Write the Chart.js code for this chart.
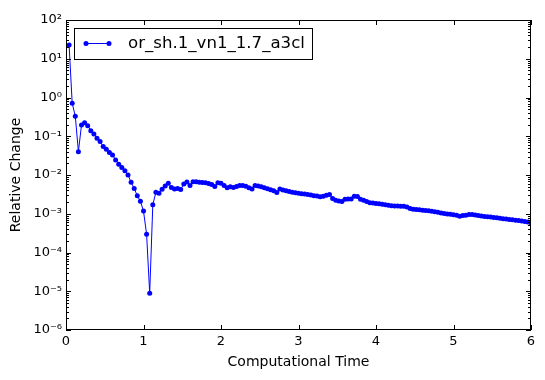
<!DOCTYPE html>
<html><head><meta charset="utf-8">
<script src="https://cdn.jsdelivr.net/npm/chart.js@4"></script>
<style>html,body{margin:0;padding:0;background:#fff}#wrap{width:545px;height:380px}</style>
</head><body><div id="wrap"><canvas id="c" width="545" height="380"></canvas></div>
<script>
const seriesLabel = 'or_sh.1_vn1_1.7_a3cl';
const timeStep = 0.04;
const relChange = [
 22.6, 0.71, 0.33, 0.04, 0.195, 0.224, 0.187, 0.139, 0.115, 0.089,
 0.073, 0.054, 0.046, 0.038, 0.033, 0.0245, 0.019, 0.0156, 0.0129, 0.010,
 0.0065, 0.0045, 0.0029, 0.0021, 0.00117, 0.000295, 0.0000089, 0.0017, 0.00358, 0.00337,
 0.00428, 0.0052, 0.00611, 0.00476, 0.00435, 0.00448, 0.00422, 0.00586, 0.0066, 0.00536,
 0.00668, 0.00672, 0.00652, 0.00637, 0.00629, 0.0060, 0.00569, 0.00505, 0.00633, 0.00614,
 0.00536, 0.00467, 0.00496, 0.00479, 0.00505, 0.00539, 0.00533, 0.00514, 0.00467, 0.00435,
 0.00536, 0.00523, 0.00499, 0.00467, 0.00443, 0.00415, 0.00391, 0.00354, 0.00435, 0.0041,
 0.00393, 0.00375, 0.00358, 0.00349, 0.00339, 0.00329, 0.00324, 0.00312, 0.00303, 0.00292,
 0.00286, 0.00274, 0.00282, 0.00301, 0.00314, 0.00246, 0.00222, 0.00213, 0.00207, 0.00236,
 0.00239, 0.0024, 0.00284, 0.00279, 0.00237, 0.00224, 0.00207, 0.00193, 0.00189, 0.00185,
 0.00182, 0.00175, 0.0017, 0.00166, 0.00162, 0.00159, 0.00158, 0.00157, 0.00156, 0.00149,
 0.00137, 0.00131, 0.00129, 0.00126, 0.00124, 0.00121, 0.00119, 0.00116, 0.00113, 0.00109,
 0.00105, 0.00102, 0.000985, 0.00097, 0.00094, 0.00091, 0.000865, 0.0009, 0.00092, 0.000955,
 0.00095, 0.00093, 0.0009, 0.000875, 0.000855, 0.000834, 0.00082, 0.000805, 0.00079, 0.000768,
 0.000745, 0.000727, 0.000715, 0.000698, 0.00068, 0.00067, 0.000654, 0.000635, 0.000612, 0.00059
];
const xTicks = [0, 1, 2, 3, 4, 5, 6];
const yTicks = [1e-6, 1e-5, 1e-4, 1e-3, 1e-2, 1e-1, 1e0, 1e1, 1e2];
const yTickLabels = ['10\u207B\u2076', '10\u207B\u2075', '10\u207B\u2074', '10\u207B\u00B3', '10\u207B\u00B2', '10\u207B\u00B9', '10\u2070', '10\u00B9', '10\u00B2'];

const points = relChange.map((v, i) => ({ x: (i + 1) * timeStep, y: v }));
const BLUE = '#0000ff';

const framePlugin = {
  id: 'frame',
  afterDatasetsDraw(chart) {
    const { ctx, chartArea: a, scales: { x, y } } = chart;
    ctx.save();
    ctx.strokeStyle = '#000';
    ctx.lineWidth = 1;
    ctx.beginPath();
    xTicks.forEach(v => {
      const px = Math.round(x.getPixelForValue(v)) + 0.5;
      ctx.moveTo(px, a.bottom); ctx.lineTo(px, a.bottom - 5);
      ctx.moveTo(px, a.top); ctx.lineTo(px, a.top + 5);
    });
    yTicks.forEach((v, k) => {
      const py = Math.round(y.getPixelForValue(v)) + 0.5;
      ctx.moveTo(a.left, py); ctx.lineTo(a.left + 5, py);
      ctx.moveTo(a.right, py); ctx.lineTo(a.right - 5, py);
      if (k < yTicks.length - 1) {
        for (let m = 2; m <= 9; m++) {
          const pm = Math.round(y.getPixelForValue(v * m)) + 0.5;
          ctx.moveTo(a.left, pm); ctx.lineTo(a.left + 3, pm);
          ctx.moveTo(a.right, pm); ctx.lineTo(a.right - 3, pm);
        }
      }
    });
    ctx.stroke();
    ctx.strokeRect(Math.round(a.left) + 0.5, Math.round(a.top) + 0.5, Math.round(a.right - a.left) - 1, Math.round(a.bottom - a.top) - 1);
    // legend
    ctx.fillStyle = '#fff';
    ctx.fillRect(74, 28, 238, 31);
    ctx.strokeRect(74.5, 28.5, 238, 31);
    ctx.strokeStyle = BLUE;
    ctx.beginPath();
    ctx.moveTo(86, 43.5); ctx.lineTo(109, 43.5);
    ctx.stroke();
    ctx.fillStyle = BLUE;
    [86, 109].forEach(cx => { ctx.beginPath(); ctx.arc(cx, 43.5, 2.5, 0, Math.PI * 2); ctx.fill(); });
    ctx.fillStyle = '#000';
    ctx.font = '16.6px "DejaVu Sans"';
    ctx.textBaseline = 'middle';
    ctx.textAlign = 'left';
    ctx.fillText(seriesLabel, 128, 44);
    ctx.restore();
  }
};

Chart.defaults.font.family = '"DejaVu Sans", sans-serif';
Chart.defaults.color = '#000';

new Chart(document.getElementById('c'), {
  type: 'line',
  data: {
    datasets: [{
      label: seriesLabel,
      data: points,
      borderColor: BLUE,
      backgroundColor: BLUE,
      borderWidth: 1,
      pointRadius: 2.5,
      pointBorderWidth: 0,
      pointBackgroundColor: BLUE,
      tension: 0,
      fill: false
    }]
  },
  options: {
    responsive: false,
    animation: false,
    devicePixelRatio: 1,
    layout: { padding: { top: 20, right: 14, left: 0, bottom: 0 } },
    plugins: { legend: { display: false }, tooltip: { enabled: false } },
    scales: {
      x: {
        type: 'linear', min: 0, max: 6,
        grid: { display: false, drawTicks: false, tickLength: 0 },
        border: { display: false },
        afterBuildTicks: s => { s.ticks = xTicks.map(v => ({ value: v })); },
        afterFit: s => { s.height = 50; },
        ticks: { color: '#000', font: { size: 13 }, padding: 4, maxRotation: 0, autoSkip: false, callback: v => String(v) },
        title: { display: true, text: 'Computational Time', color: '#000', font: { size: 14 }, padding: { top: 0, bottom: 9.6 } }
      },
      y: {
        type: 'logarithmic', min: 1e-6, max: 1e2,
        grid: { display: false, drawTicks: false, tickLength: 0 },
        border: { display: false },
        afterBuildTicks: s => { s.ticks = yTicks.map(v => ({ value: v })); },
        afterFit: s => { s.width = 66; },
        ticks: { color: '#000', font: { size: 13 }, padding: 4, autoSkip: false, callback: (v, i) => yTickLabels[i] },
        title: { display: true, text: 'Relative Change', color: '#000', font: { size: 14 }, padding: { top: 7.6, bottom: 0 } }
      }
    }
  },
  plugins: [framePlugin]
});
</script>
</body></html>
